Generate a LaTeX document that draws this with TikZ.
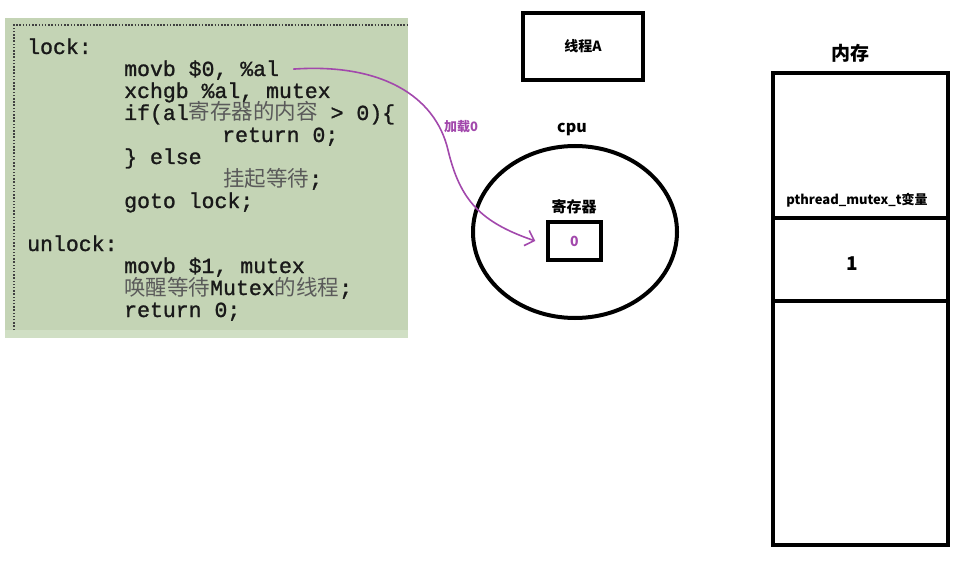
\documentclass[tikz,border=0pt]{standalone}
\usepackage{fontspec}
\setmainfont{Liberation Sans}
\newfontfamily\cjk{Noto Sans CJK SC}
\newfontfamily\codefont[FakeBold=1.2]{Liberation Mono}
\usetikzlibrary{shapes.geometric,arrows.meta}
\definecolor{codebg}{RGB}{196,212,181}
\definecolor{codebgl}{RGB}{208,223,196}
\definecolor{codetx}{RGB}{25,25,25}
\definecolor{codezh}{RGB}{90,90,90}
\definecolor{purp}{RGB}{162,72,172}
\newcommand\zh[1]{{\cjk\color{codezh}#1}}
\tikzset{
  codeline/.style={anchor=base west, inner sep=0pt, text=codetx,
    font=\codefont\fontsize{21.5}{21.5}\selectfont},
  thick box/.style={draw=black, line width=4pt, inner sep=0pt},
  label zh/.style={inner sep=0pt, font=\cjk\bfseries\fontsize{#1}{#1}\selectfont},
}
\begin{document}
\begin{tikzpicture}[x=1pt,y=-1pt]
\useasboundingbox (0,0) rectangle (975,567);
% code panel
\fill[codebgl] (5,18) rectangle (408,338);
\fill[codebg] (5,18) rectangle (408,330);
\draw[black!75, line width=1.5pt, dash pattern=on 1.5pt off 1.7pt] (14,330) -- (14,25) -- (408,25);
\node[codeline] (l1) at (27,54) {lock:};
\node[codeline] (l2) at (124,76) {movb \$0, \%al};
\node[codeline] (l3) at (124,98) {xchgb \%al, mutex};
\node[codeline] (l4) at (124,120) {if(al\zh{寄存器的内容} > 0)\{};
\node[codeline] (l5) at (222,142) {return 0;};
\node[codeline] (l6) at (124,164) {\} else};
\node[codeline] (l7) at (223,186) {\zh{挂起等待};};
\node[codeline] (l8) at (124,208) {goto lock;};
\node[codeline] (l9) at (27,251) {unlock:};
\node[codeline] (l10) at (124,273) {movb \$1, mutex};
\node[codeline] (l11) at (124,295) {\zh{唤醒等待}Mutex\zh{的线程};};
\node[codeline] (l12) at (124,317) {return 0;};
% thread A
\node[thick box, minimum width=120pt, minimum height=67pt] (thr) at (583,46.5) {};
\node[label zh=14] at (thr.center) {线程A};
% cpu
\node[label zh=16] (cpulbl) at (572,129) {cpu};
\node[draw, ellipse, line width=4pt, minimum width=204pt, minimum height=172pt] (cpu) at (575,232) {};
\node[label zh=15] (reglbl) at (574,207) {寄存器};
\node[draw, line width=3.5pt, minimum width=53pt, minimum height=38pt, inner sep=0pt] (reg) at (574.5,241) {};
\node[label zh=14, text=purp] at (reg.center) {0};
% memory
\node[label zh=19] (memlbl) at (850,53) {内存};
\node[thick box, minimum width=175pt, minimum height=145pt] (m1) at (860.5,145.5) {};
\node[thick box, minimum width=175pt, minimum height=83pt] (m2) at (860.5,259.5) {};
\node[thick box, minimum width=175pt, minimum height=244pt] (m3) at (860.5,423) {};
\node[label zh=13] at (857,200) {pthread\_mutex\_t变量};
\node[label zh=19] at ([xshift=-8pt,yshift=-4pt]m2.center) {1};
% arrow
\coordinate (a0) at ([xshift=14pt,yshift=1pt]l2.east);
\coordinate (amid) at (448,150);
\coordinate (a1) at ([xshift=-11pt]reg.west);
\draw[purp, line width=1.6pt, -{Straight Barb[length=8pt,width=16pt,line width=1.6pt]}]
  (a0) .. controls (380,63) and (435,95) .. (amid)
       .. controls (460,200) and (480,222) .. (a1);
\node[label zh=13, text=purp] (lbl) at (461,127) {加载0};
\end{tikzpicture}
\end{document}
